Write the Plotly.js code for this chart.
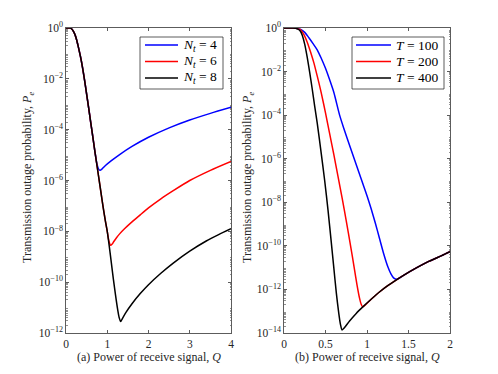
<!DOCTYPE html>
<html>
<head>
<meta charset="utf-8">
<script src="https://cdn.plot.ly/plotly-3.0.1.min.js"></script>
<style>
  html, body { margin: 0; padding: 0; background: #fff; }
  #chart { width: 498px; height: 374px; }
</style>
</head>
<body>
<div id="chart"></div>
<script>
// values as log10(Pe)

// (a) outage probability vs Q for Nt = 4, 6, 8
const qA4   = [0, 0.05, 0.1, 0.14, 0.18, 0.22, 0.26, 0.3, 0.35, 0.4, 0.45, 0.5, 0.55, 0.6, 0.65, 0.7, 0.75, 0.79, 0.83, 0.87, 0.95, 1.1, 1.3, 1.6, 2.0, 2.5, 3.0, 3.5, 4.0];
const lgA4  = [0, 0, -0.005, -0.04, -0.13, -0.27, -0.48, -0.75, -1.12, -1.55, -2.05, -2.6, -3.15, -3.72, -4.28, -4.85, -5.35, -5.55, -5.6, -5.55, -5.42, -5.22, -4.98, -4.66, -4.3, -3.93, -3.62, -3.36, -3.12];

const qA6   = [0, 0.05, 0.1, 0.14, 0.18, 0.22, 0.26, 0.3, 0.35, 0.4, 0.45, 0.5, 0.55, 0.6, 0.65, 0.7, 0.75, 0.8, 0.85, 0.9, 0.95, 1.0, 1.04, 1.08, 1.12, 1.16, 1.22, 1.3, 1.4, 1.6, 1.8, 2.0, 2.3, 2.6, 3.0, 3.5, 4.0];
const lgA6  = [0, 0, -0.005, -0.04, -0.13, -0.27, -0.48, -0.75, -1.12, -1.55, -2.05, -2.6, -3.15, -3.72, -4.28, -4.85, -5.4, -5.95, -6.5, -7.05, -7.55, -8.0, -8.38, -8.55, -8.5, -8.4, -8.26, -8.1, -7.93, -7.63, -7.35, -7.08, -6.72, -6.4, -6.0, -5.6, -5.25];

const qA8   = [0, 0.05, 0.1, 0.14, 0.18, 0.22, 0.26, 0.3, 0.35, 0.4, 0.45, 0.5, 0.55, 0.6, 0.65, 0.7, 0.75, 0.8, 0.85, 0.9, 0.95, 1.0, 1.05, 1.1, 1.15, 1.2, 1.25, 1.29, 1.325, 1.37, 1.45, 1.6, 1.8, 2.0, 2.3, 2.6, 3.0, 3.4, 3.7, 4.0];
const lgA8  = [0, 0, -0.005, -0.04, -0.13, -0.27, -0.48, -0.75, -1.12, -1.55, -2.05, -2.6, -3.15, -3.72, -4.28, -4.85, -5.4, -5.95, -6.5, -7.05, -7.55, -8.0, -8.6, -9.25, -9.9, -10.5, -11.05, -11.4, -11.55, -11.42, -11.2, -10.85, -10.45, -10.1, -9.65, -9.25, -8.78, -8.38, -8.13, -7.9];

// (b) outage probability vs Q for T = 100, 200, 400
const qB100  = [0, 0.1, 0.14, 0.18, 0.2, 0.25, 0.3, 0.35, 0.4, 0.45, 0.5, 0.55, 0.6, 0.67, 0.72, 0.8, 0.85, 0.9, 0.95, 1.0, 1.05, 1.1, 1.15, 1.2, 1.25, 1.29, 1.32, 1.35, 1.38, 1.45, 1.6, 1.75, 1.9, 2.0];
const lgB100 = [0, 0, -0.01, -0.04, -0.06, -0.2, -0.45, -0.72, -1.0, -1.4, -1.85, -2.38, -2.95, -4.0, -4.6, -5.5, -6.05, -6.6, -7.15, -7.7, -8.3, -8.95, -9.65, -10.35, -10.95, -11.3, -11.47, -11.53, -11.5, -11.33, -11.0, -10.7, -10.45, -10.27];

const qB200  = [0, 0.1, 0.14, 0.18, 0.2, 0.24, 0.28, 0.32, 0.36, 0.4, 0.45, 0.5, 0.55, 0.6, 0.65, 0.7, 0.75, 0.8, 0.85, 0.88, 0.91, 0.93, 0.95, 1.05, 1.15, 1.25, 1.35, 1.45, 1.6, 1.75, 1.9, 2.0];
const lgB200 = [0, 0, -0.01, -0.05, -0.08, -0.3, -0.65, -1.1, -1.6, -2.2, -3.0, -3.9, -4.85, -5.8, -6.8, -7.8, -8.85, -9.95, -11.1, -11.8, -12.4, -12.68, -12.8, -12.45, -12.12, -11.83, -11.57, -11.33, -11.0, -10.7, -10.45, -10.27];

const qB400  = [0, 0.1, 0.14, 0.18, 0.2, 0.22, 0.25, 0.28, 0.31, 0.34, 0.37, 0.4, 0.45, 0.49, 0.53, 0.57, 0.6, 0.63, 0.66, 0.68, 0.7, 0.73, 0.79, 0.87, 0.95, 1.05, 1.15, 1.25, 1.35, 1.45, 1.6, 1.75, 1.9, 2.0];
const lgB400 = [0, 0, -0.01, -0.08, -0.16, -0.33, -0.75, -1.35, -2.05, -2.8, -3.6, -4.35, -5.8, -7.0, -8.35, -9.85, -11.0, -12.15, -13.1, -13.6, -13.86, -13.75, -13.45, -13.1, -12.8, -12.45, -12.12, -11.83, -11.57, -11.33, -11.0, -10.7, -10.45, -10.27];

const namesA = ['<i>N</i><sub><i>t</i></sub> = 4', '<i>N</i><sub><i>t</i></sub> = 6', '<i>N</i><sub><i>t</i></sub> = 8'];
const namesB = ['<i>T</i> = 100', '<i>T</i> = 200', '<i>T</i> = 400'];
const colors = ['#0000ff', '#ff0000', '#000000'];

const xTicksA = [0, 1, 2, 3, 4];
const xTicksB = [0, 0.5, 1, 1.5, 2];
const yExpA = [0, -2, -4, -6, -8, -10, -12];
const yExpB = [0, -2, -4, -6, -8, -10, -12, -14];

const FONT = '"Liberation Serif", serif';
const AX = '#262626';
const W = 498, H = 374;

function expLabel(e) {
  return e === 0 ? '10<sup>0</sup>' : '10<sup>\u2212' + (-e) + '</sup>';
}
function minorVals(lo) {
  const v = [];
  for (let k = lo; k < 0; k++) for (let m = 2; m <= 9; m++) v.push(m * Math.pow(10, k));
  return v;
}

function mk(x, lg, i, name, xa, ya) {
  return {
    x: x, y: lg.map(v => Math.pow(10, v)), name: name, xaxis: xa, yaxis: ya,
    type: 'scatter', mode: 'lines', showlegend: false,
    line: { color: colors[i], width: 1.5, shape: 'spline', smoothing: 0.7 }
  };
}

const traces = [
  mk(qA4, lgA4, 0, namesA[0], 'x', 'y'),
  mk(qA6, lgA6, 1, namesA[1], 'x', 'y'),
  mk(qA8, lgA8, 2, namesA[2], 'x', 'y'),
  mk(qB100, lgB100, 0, namesB[0], 'x2', 'y2'),
  mk(qB200, lgB200, 1, namesB[1], 'x2', 'y2'),
  mk(qB400, lgB400, 2, namesB[2], 'x2', 'y2')
];

function xAxis(dom, rng, ticks, anchor) {
  return {
    domain: dom, range: rng, anchor: anchor,
    tickvals: ticks, ticktext: ticks.map(String),
    ticks: 'inside', ticklen: 3, tickcolor: AX, tickwidth: 0.75,
    showline: true, linecolor: AX, linewidth: 0.75, mirror: 'ticks',
    showgrid: false, zeroline: false,
    tickfont: { family: FONT, size: 11.5, color: AX }
  };
}
function yAxis(dom, lo, exps, anchor) {
  return {
    domain: dom, type: 'log', range: [lo, 0], anchor: anchor,
    tickvals: exps.map(e => Math.pow(10, e)), ticktext: exps.map(expLabel),
    ticks: 'inside', ticklen: 3, tickcolor: AX, tickwidth: 0.75,
    minor: { tickmode: 'array', tickvals: minorVals(lo), ticks: 'inside', ticklen: 1.5, tickcolor: AX, tickwidth: 0.5, showgrid: false },
    showline: true, linecolor: AX, linewidth: 0.75, mirror: 'ticks',
    showgrid: false, zeroline: false,
    tickfont: { family: FONT, size: 11.5, color: AX }
  };
}

// legend boxes in paper pixels: [left, top, right, bottom, lineStart, lineEnd]
const legendBoxes = [[140, 37, 223, 89, 145, 178], [352, 37, 444, 89, 356, 391]];
const legendRows = [45, 61.5, 78];

const shapes = [], annotations = [];
legendBoxes.forEach((b, k) => {
  shapes.push({ type: 'rect', xref: 'paper', yref: 'paper', x0: b[0] / W, x1: b[2] / W, y0: 1 - b[1] / H, y1: 1 - b[3] / H,
    line: { color: AX, width: 0.75 }, fillcolor: '#fff' });
  const names = k === 0 ? namesA : namesB;
  legendRows.forEach((ry, i) => {
    shapes.push({ type: 'line', xref: 'paper', yref: 'paper', x0: b[4] / W, x1: b[5] / W, y0: 1 - ry / H, y1: 1 - ry / H,
      line: { color: colors[i], width: 1.5 } });
    annotations.push({ text: names[i], xref: 'paper', yref: 'paper', x: (b[5] + 3) / W, y: 1 - ry / H,
      xanchor: 'left', yanchor: 'middle', showarrow: false, font: { family: FONT, size: 13.5, color: '#000' } });
  });
});

const titleFont = { family: FONT, size: 12, color: AX };
annotations.push(
  { text: '(a) Power of receive signal, <i>Q</i>', xref: 'paper', yref: 'paper', x: 148.5 / W, y: 1 - 357 / H, xanchor: 'center', yanchor: 'middle', showarrow: false, font: titleFont },
  { text: '(b) Power of receive signal, <i>Q</i>', xref: 'paper', yref: 'paper', x: 367 / W, y: 1 - 357 / H, xanchor: 'center', yanchor: 'middle', showarrow: false, font: titleFont },
  { text: 'Transmission outage probability, <i>P</i><sub><i>e</i></sub>', xref: 'paper', yref: 'paper', x: 28 / W, y: 1 - 178 / H, xanchor: 'center', yanchor: 'middle', textangle: -90, showarrow: false, font: titleFont },
  { text: 'Transmission outage probability, <i>P</i><sub><i>e</i></sub>', xref: 'paper', yref: 'paper', x: 248 / W, y: 1 - 178 / H, xanchor: 'center', yanchor: 'middle', textangle: -90, showarrow: false, font: titleFont }
);

const yDom = [1 - 333 / H, 1 - 28 / H];
const layout = {
  width: W, height: H,
  margin: { l: 0, r: 0, t: 0, b: 0 },
  paper_bgcolor: '#fff', plot_bgcolor: '#fff',
  showlegend: false,
  xaxis: xAxis([66 / W, 231 / W], [0, 4], xTicksA, 'y'),
  yaxis: yAxis(yDom, -12, yExpA, 'x'),
  xaxis2: xAxis([284 / W, 450 / W], [0, 2], xTicksB, 'y2'),
  yaxis2: yAxis(yDom, -14, yExpB, 'x2'),
  shapes: shapes,
  annotations: annotations
};

Plotly.newPlot('chart', traces, layout, { displayModeBar: false, staticPlot: true });
</script>
</body>
</html>
